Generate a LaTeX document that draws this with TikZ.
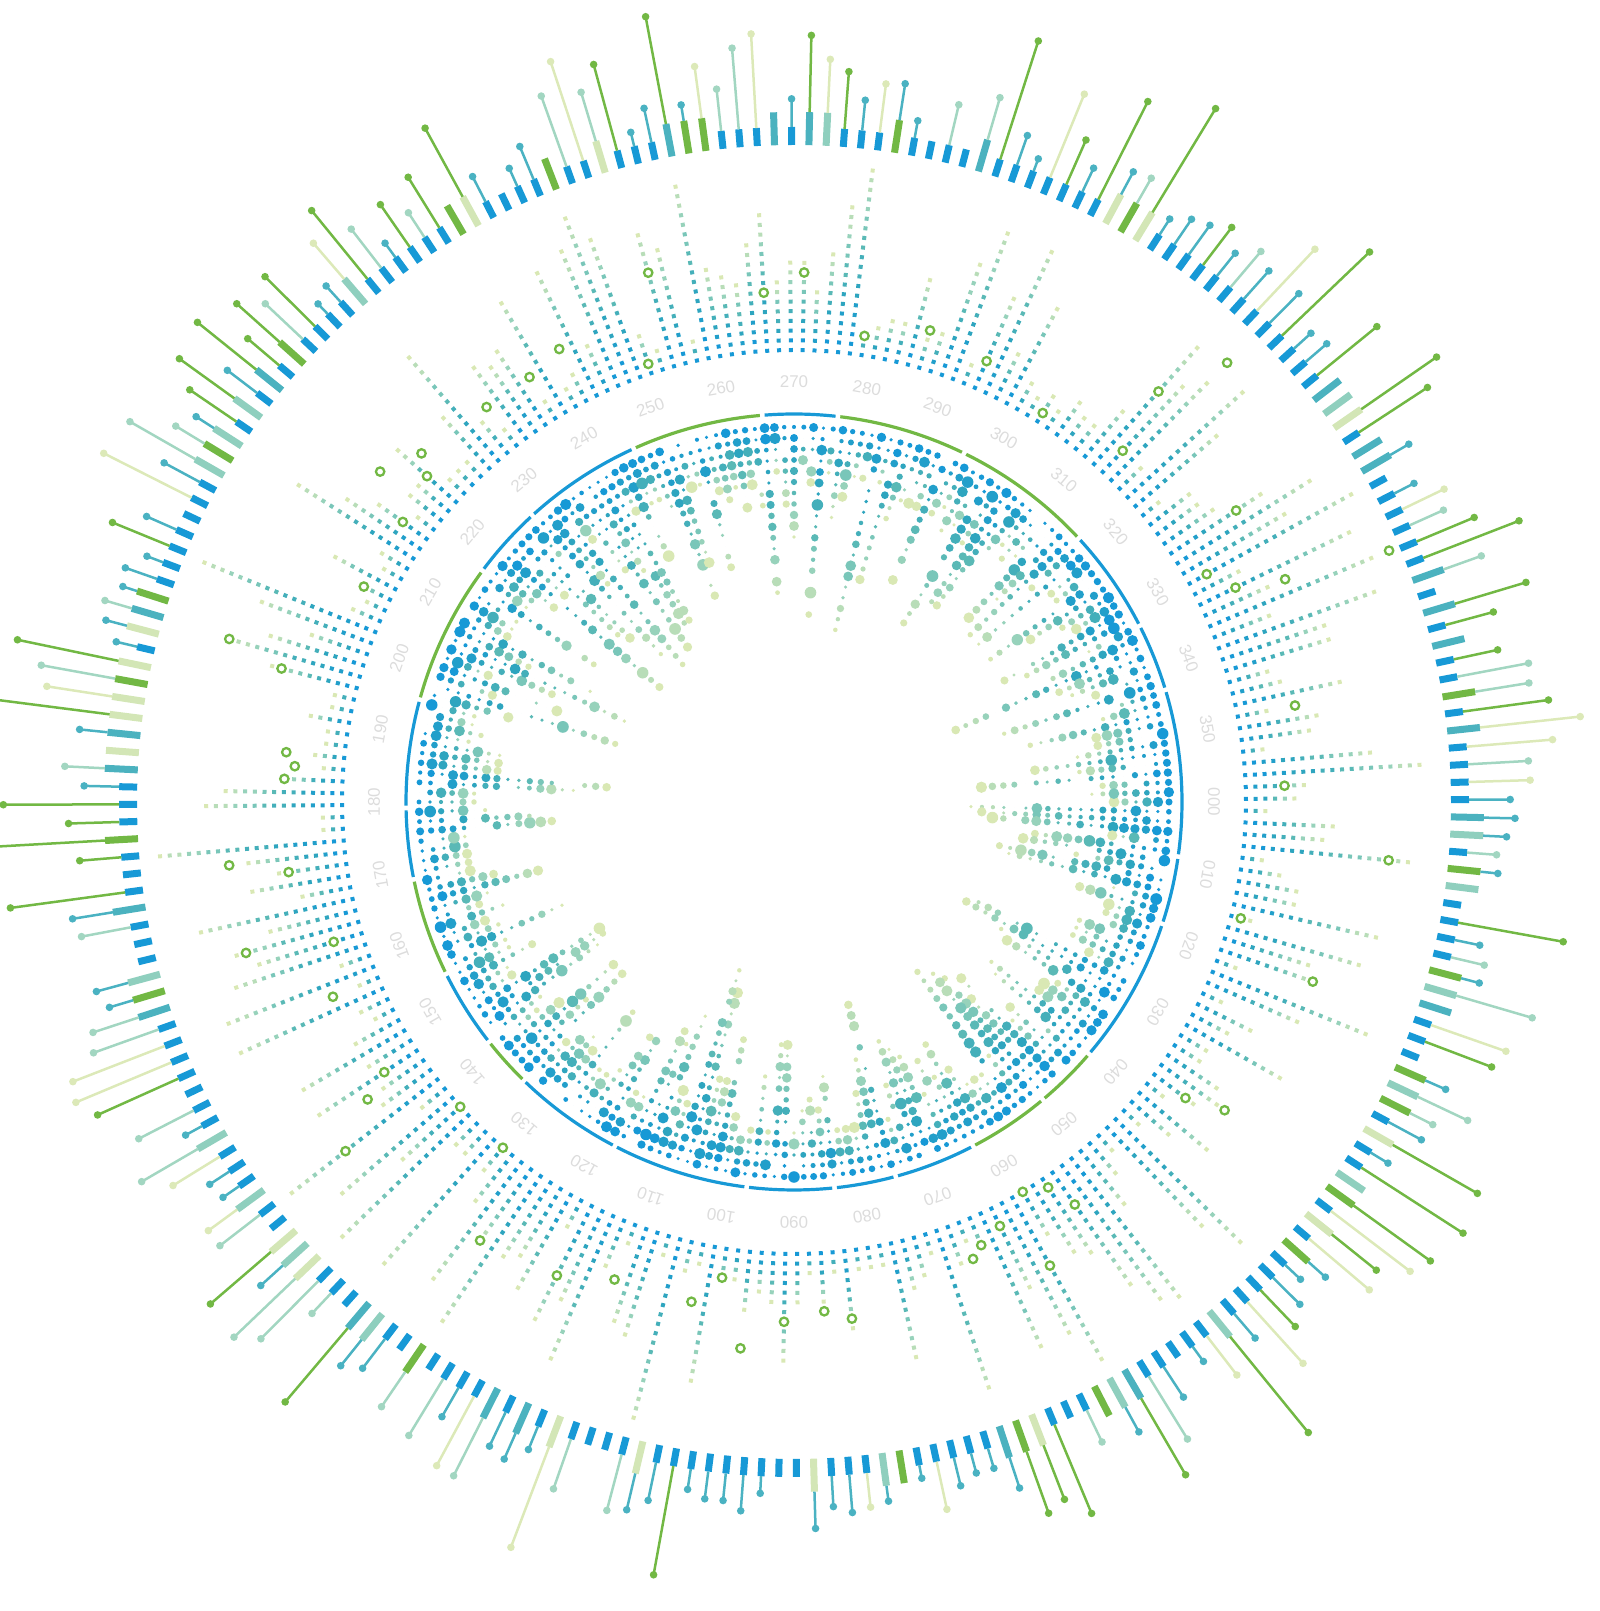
\documentclass[tikz,border=0pt]{standalone}
\usepackage{fontspec}
\setmainfont{Liberation Sans}
\usepackage{xcolor}
\usepackage{tikz}

\definecolor{cblue}{HTML}{1799D6}
\definecolor{cteal}{HTML}{2EA5BF}
\definecolor{cturq}{HTML}{5AB9B6}
\definecolor{cmint}{HTML}{97D2BB}
\definecolor{cpale}{HTML}{D9E8B4}
\definecolor{cgreen}{HTML}{72B844}
\definecolor{clabel}{HTML}{DCDCDC}
\colorlet{grad0}{cblue}
\colorlet{grad1}{cblue!50!cteal}
\colorlet{grad2}{cteal}
\colorlet{grad3}{cteal!50!cturq}
\colorlet{grad4}{cturq}
\colorlet{grad5}{cturq!50!cmint}
\colorlet{grad6}{cmint}
\colorlet{grad7}{cmint!50!cpale}
\colorlet{grad8}{cpale}
% outer bars and stems
\colorlet{bar0}{cblue}
\definecolor{bar1}{HTML}{4BB2BF}
\definecolor{bar2}{HTML}{8FCFBE}
\colorlet{bar3}{cgreen}
\definecolor{bar4}{HTML}{D3E6B6}
\definecolor{stem1}{HTML}{4AB2C2}
\definecolor{stem2}{HTML}{A2D6C1}
\colorlet{stem3}{cgreen}
\definecolor{stem4}{HTML}{DCE9B8}

\begin{document}
\begin{tikzpicture}[
  lbl/.style={text=clabel,font=\fontsize{17}{17}\selectfont,inner sep=0pt},
  ringseg/.style={line width=3.2pt},
  hollow/.style={draw=cgreen,line width=2.3pt,fill=white}]
\useasboundingbox (0,0) rectangle (1600pt,1611pt);
\coordinate (c) at (794pt,809pt);
\pgfmathsetseed{2718}
\begin{scope}[shift={(c)}]
% inner dots
\foreach \i in {0,...,239}{
  \pgfmathsetmacro\ang{-1.5*\i}
  \pgfmathtruncatemacro\nd{4+int(15*rnd^2)}
  \foreach \kk in {0,...,\nd}{
    \pgfmathtruncatemacro\ci{round(8*(\kk/\nd)^1.25)}
    \pgfmathsetmacro\rad{375-11*\kk}
    \pgfmathsetmacro\dr{(rnd>0.08)*(1.7+4.2*rnd^1.7)}
    \fill[grad\ci] (\ang:\rad pt) circle (\dr pt);
  }
}
% middle dashes
\foreach \i in {0,...,239}{
  \pgfmathsetmacro\ang{-1.5*\i+0.4}
  \pgfmathtruncatemacro\nd{2+int(18*rnd^1.7)}
  \foreach \kk in {0,...,\nd}{
    \pgfmathtruncatemacro\ci{round(8*(\kk/\nd)^1.3)}
    \pgfmathsetmacro\rad{450+9.7*\kk}
    \pgfmathsetmacro\rb{\rad+4}
    \draw[grad\ci,line width=4pt] (\ang:\rad pt) -- (\ang:\rb pt);
  }
  \pgfmathsetmacro\pp{rnd}
  \pgfmathsetmacro\rc{452+9.7*int(rnd*(\nd+5))}
  \ifdim\pp pt<0.28pt \draw[hollow] (\ang:\rc pt) circle (4.2pt); \fi
}
% outer bars and stems
\foreach \i in {0,...,239}{
  \pgfmathsetmacro\ang{-1.5*\i+0.2}
  \pgfmathsetmacro\pp{rnd}
  \pgfmathtruncatemacro\bc{(\pp>0.62)+(\pp>0.74)+(\pp>0.84)+(\pp>0.92)}
  \pgfmathsetmacro\rb{\bc==0 ? 675 : 690}
  \pgfmathsetmacro\qq{rnd}
  \pgfmathtruncatemacro\sc{(\qq>0.14)+(\qq>0.5)+(\qq>0.64)+(\qq>0.87)}
  \pgfmathsetmacro\ww{rnd}
  \pgfmathsetmacro\len{\sc==1 ? 12+30*\ww : (\sc==2 ? 25+60*\ww : (\sc==3 ? 40+85*\ww : 30+80*\ww))}
  \draw[bar\bc,line width=7pt] (\ang:657pt) -- (\ang:\rb pt);
  \ifnum\sc>0
    \pgfmathsetmacro\re{\rb+\len}
    \draw[stem\sc,line width=2.5pt] (\ang:\rb pt) -- (\ang:\re pt);
    \fill[stem\sc] (\ang:\re pt) circle (3.8pt);
  \fi
}
% ring
\foreach \sa/\sb/\col in {343.2/368.1/cblue, 8.1/18.3/cblue, 18.3/40.5/cblue,
  40.5/50.1/cgreen, 50.1/62.5/cgreen, 62.5/74.8/cblue, 74.8/84/cblue, 84/97/cblue,
  97/117.5/cblue, 117.5/134.1/cblue, 134.1/141.8/cgreen, 141.8/153.7/cblue,
  153.7/168.5/cgreen, 168.5/179.1/cblue, 179.1/195.3/cblue, 195.3/216.6/cgreen,
  216.6/227.6/cblue, 227.6/245.6/cblue, 245.6/265.3/cgreen, 265.3/276.5/cblue,
  276.5/296/cgreen, 296/317.2/cgreen, 317.2/333/cblue, 333/343.2/cblue}
  \draw[ringseg,\col] ({-\sa-0.35}:388pt) arc[start angle={-\sa-0.35}, end angle={-\sb+0.35}, radius=388pt];
% degree labels
\foreach \lab in {0,10,...,350}
  \node[lbl,rotate={-\lab-90}] (l\lab) at ({-\lab}:420pt) {\ifnum\lab<10 00\else\ifnum\lab<100 0\fi\fi\lab};
\end{scope}
\end{tikzpicture}
\end{document}
